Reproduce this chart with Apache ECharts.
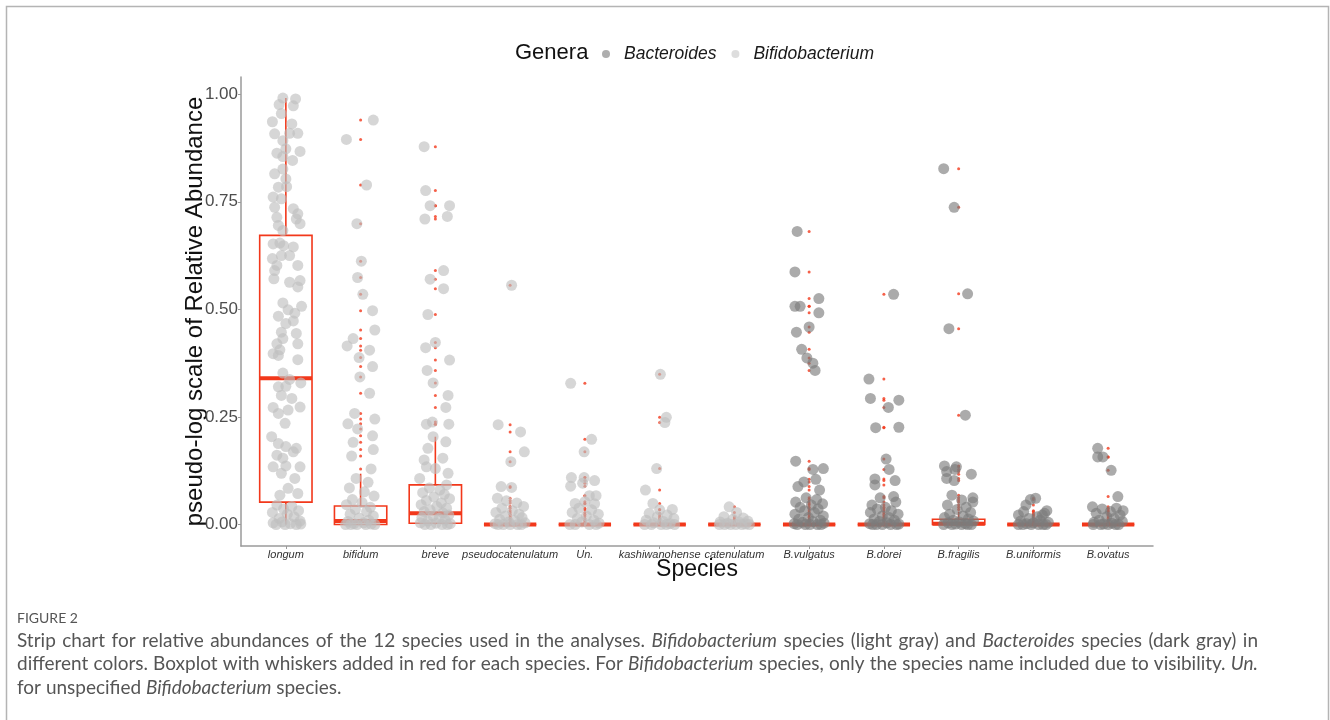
<!DOCTYPE html>
<html>
<head>
<meta charset="utf-8">
<script src="https://cdn.jsdelivr.net/npm/echarts@6/dist/echarts.min.js"></script>
<style>
html,body{margin:0;padding:0;background:#fff;}
#c{width:1330px;height:720px;}
</style>
</head>
<body>
<div id="c"></div>
<script>
// ---------- DATA ----------
const species = ['longum','bifidum','breve','pseudocatenulatum','Un.','kashiwanohense','catenulatum','B.vulgatus','B.dorei','B.fragilis','B.uniformis','B.ovatus'];
const genusOf = ['Bifidobacterium','Bifidobacterium','Bifidobacterium','Bifidobacterium','Bifidobacterium','Bifidobacterium','Bifidobacterium','Bacteroides','Bacteroides','Bacteroides','Bacteroides','Bacteroides'];
const yTicks = [0, 0.25, 0.5, 0.75, 1];

// box statistics per species: [lower whisker, Q1, median, Q3, upper whisker]
const boxLow    = [0,     0,     0,     0, 0, 0, 0, 0, 0, 0,     0, 0];
const boxQ1     = [0.052, 0,     0.003, 0, 0, 0, 0, 0, 0, 0,     0, 0];
const boxMedian = [0.340, 0.008, 0.026, 0, 0, 0, 0, 0, 0, 0.002, 0, 0];
const boxQ3     = [0.672, 0.043, 0.092, 0, 0, 0, 0, 0, 0, 0.012, 0, 0];
const boxHigh   = [0.991, 0.118, 0.204, 0, 0, 0, 0, 0, 0, 0.030, 0, 0];

// jittered observations per species: [horizontal jitter (category units), value]
const longum = [[-0.04,0.991],[0.13,0.989],[-0.09,0.976],[0.10,0.973],[-0.06,0.955],[-0.18,0.936],[0.08,0.931],[-0.15,0.908],[0.05,0.909],[0.16,0.909],[-0.04,0.892],[-0.12,0.863],[0,0.873],[0.19,0.867],[-0.04,0.855],[0.09,0.846],[-0.04,0.826],[-0.15,0.815],[0,0.803],[-0.10,0.784],[0.01,0.785],[-0.17,0.761],[-0.06,0.757],[-0.15,0.737],[0.10,0.734],[0.16,0.722],[0.14,0.710],[-0.12,0.714],[0.19,0.699],[-0.10,0.695],[-0.04,0.683],[-0.17,0.652],[-0.08,0.654],[-0.03,0.648],[0.10,0.645],[-0.18,0.618],[-0.06,0.625],[0.05,0.625],[-0.12,0.602],[0.16,0.602],[-0.15,0.590],[-0.16,0.571],[0.05,0.563],[0.19,0.567],[0.16,0.552],[-0.04,0.515],[0.21,0.507],[0.03,0.499],[-0.10,0.484],[0.12,0.491],[0.10,0.473],[0,0.467],[-0.06,0.447],[0.14,0.444],[-0.04,0.432],[-0.12,0.420],[0.16,0.420],[-0.17,0.397],[-0.08,0.406],[-0.10,0.393],[0.16,0.383],[-0.04,0.352],[0.05,0.337],[0.20,0.329],[-0.10,0.320],[0,0.321],[-0.06,0.300],[0.08,0.293],[-0.17,0.272],[0.19,0.273],[-0.10,0.258],[0.03,0.266],[-0.01,0.235],[-0.19,0.204],[-0.10,0.188],[0,0.181],[0.14,0.177],[0.10,0.169],[-0.12,0.161],[-0.04,0.154],[0.19,0.134],[-0.17,0.134],[0,0.136],[-0.06,0.119],[0.12,0.107],[0.03,0.084],[-0.08,0.068],[0.16,0.072],[-0.12,0.045],[0.08,0.042],[-0.03,0.036],[0.17,0.032],[-0.18,0.028],[0.02,0.024],[0.11,0.018],[-0.09,0.014],[0.19,0.008],[-0.17,0.004],[-0.05,0.006],[0.06,0.002],[0.14,0],[-0.13,0],[-0.01,0],[0.2,0.001]];
const bifidum = [[0.17,0.940],[-0.19,0.895],[0.08,0.789],[-0.05,0.699],[0.01,0.612],[-0.04,0.574],[0.03,0.535],[0.16,0.497],[0.19,0.452],[-0.10,0.432],[-0.18,0.415],[0.12,0.405],[-0.02,0.388],[0.16,0.367],[-0.01,0.343],[0.12,0.305],[-0.08,0.258],[0.19,0.245],[-0.17,0.234],[-0.04,0.222],[0.16,0.206],[-0.10,0.191],[0.17,0.174],[-0.12,0.159],[0.14,0.129],[-0.06,0.107],[0.10,0.098],[-0.15,0.085],[0.05,0.076],[0.18,0.066],[-0.11,0.058],[0.02,0.051],[-0.19,0.046],[0.13,0.040],[-0.07,0.035],[0.08,0.030],[-0.14,0.024],[0.17,0.020],[-0.02,0.015],[0.11,0.010],[-0.17,0.007],[0.04,0.004],[-0.09,0.002],[0.19,0],[-0.2,0],[-0.05,0],[0.07,0],[0.14,0.001],[-0.13,0]];
const breve = [[-0.15,0.878],[-0.13,0.776],[-0.07,0.741],[0.19,0.741],[-0.14,0.710],[0.16,0.716],[0.11,0.590],[-0.07,0.570],[0.11,0.548],[-0.10,0.488],[0,0.423],[-0.13,0.411],[0.19,0.382],[-0.11,0.358],[-0.03,0.329],[0.17,0.300],[0.14,0.272],[-0.12,0.233],[-0.04,0.238],[0.18,0.233],[-0.03,0.204],[0.14,0.192],[-0.10,0.177],[0.10,0.154],[-0.15,0.150],[-0.12,0.134],[0,0.130],[0.17,0.119],[-0.21,0.107],[0.15,0.092],[-0.08,0.085],[0.06,0.080],[-0.17,0.074],[0.12,0.070],[-0.02,0.064],[0.19,0.060],[-0.12,0.056],[0.08,0.050],[-0.19,0.046],[0.02,0.042],[0.15,0.038],[-0.07,0.034],[-0.15,0.030],[0.10,0.027],[0.18,0.022],[-0.03,0.020],[-0.18,0.016],[0.05,0.014],[0.13,0.010],[-0.10,0.008],[-0.2,0.004],[0.01,0.003],[0.2,0.002],[-0.06,0],[0.09,0],[-0.14,0],[0.16,0]];
const pseudocatenulatum = [[0.02,0.556],[-0.16,0.232],[0.14,0.215],[0.19,0.169],[0.01,0.146],[-0.12,0.088],[0.02,0.086],[-0.17,0.061],[-0.05,0.055],[0.09,0.050],[0.18,0.042],[-0.11,0.038],[0.03,0.032],[-0.19,0.028],[0.12,0.024],[-0.06,0.020],[0.16,0.016],[-0.14,0.012],[0.06,0.009],[-0.02,0.006],[0.2,0.004],[-0.2,0.002],[0.10,0],[-0.09,0],[0,0],[0.15,0],[-0.16,0]];
const unspecified = [[-0.19,0.328],[0.09,0.198],[-0.01,0.169],[-0.18,0.109],[-0.01,0.109],[0.13,0.102],[-0.19,0.089],[-0.03,0.096],[0.06,0.067],[0.15,0.067],[-0.13,0.049],[0.13,0.048],[0,0.053],[-0.08,0.038],[0.09,0.034],[-0.17,0.028],[0.18,0.024],[0.02,0.020],[-0.10,0.014],[0.12,0.010],[-0.04,0.006],[0.19,0.003],[-0.2,0],[0.06,0],[-0.13,0],[0.15,0]];
const kashiwanohense = [[0.01,0.349],[0.09,0.249],[0.07,0.237],[-0.04,0.130],[-0.19,0.080],[-0.09,0.049],[0.17,0.035],[0,0.034],[-0.14,0.026],[0.10,0.022],[-0.03,0.018],[0.19,0.014],[-0.18,0.010],[0.05,0.007],[-0.08,0.004],[0.14,0.002],[-0.2,0],[-0.11,0],[0.02,0],[0.2,0],[0.09,0]];
const catenulatum = [[-0.07,0.041],[0.03,0.028],[-0.14,0.018],[0.12,0.015],[-0.02,0.012],[0.18,0.008],[-0.19,0.006],[0.07,0.005],[-0.09,0.003],[0.15,0.001],[-0.2,0],[-0.05,0],[0.02,0],[0.10,0],[0.2,0],[-0.13,0]];
const vulgatus = [[-0.16,0.681],[-0.19,0.587],[0.13,0.525],[-0.19,0.507],[-0.12,0.507],[0.13,0.492],[0,0.459],[-0.17,0.447],[-0.10,0.407],[-0.03,0.387],[0.05,0.375],[0.08,0.358],[-0.18,0.147],[0.05,0.128],[0.19,0.130],[0.09,0.105],[-0.07,0.099],[-0.15,0.088],[0.14,0.080],[-0.04,0.062],[0.10,0.058],[-0.18,0.052],[0.18,0.048],[0.03,0.045],[-0.12,0.040],[0.12,0.036],[-0.06,0.032],[0.07,0.028],[-0.19,0.024],[0.19,0.020],[-0.01,0.016],[-0.14,0.012],[0.15,0.010],[0.05,0.007],[-0.09,0.005],[0.2,0.003],[-0.2,0.002],[0.11,0],[-0.05,0],[0.01,0],[-0.16,0],[0.16,0]];
const dorei = [[0.13,0.535],[-0.20,0.338],[-0.18,0.293],[0.20,0.289],[0.06,0.272],[-0.11,0.225],[0.20,0.226],[0.03,0.152],[0.07,0.128],[-0.12,0.106],[0.15,0.102],[-0.12,0.092],[-0.05,0.062],[0.13,0.065],[0.16,0.052],[-0.16,0.045],[0.02,0.040],[-0.09,0.036],[0.10,0.032],[-0.18,0.028],[0.19,0.024],[-0.02,0.020],[0.07,0.016],[-0.13,0.013],[0.14,0.010],[-0.06,0.007],[0.04,0.004],[-0.19,0.002],[0.2,0.001],[-0.10,0],[0.09,0],[-0.02,0],[0.17,0],[-0.15,0]];
const fragilis = [[-0.20,0.827],[-0.06,0.737],[0.12,0.536],[-0.13,0.455],[0.09,0.254],[-0.19,0.136],[-0.16,0.123],[-0.05,0.128],[-0.16,0.107],[-0.06,0.102],[0.17,0.117],[-0.03,0.134],[-0.09,0.068],[0.19,0.062],[0.19,0.052],[0.04,0.057],[-0.15,0.045],[0.10,0.040],[-0.02,0.035],[0.16,0.028],[-0.12,0.024],[0.06,0.020],[-0.19,0.016],[0.13,0.013],[-0.07,0.010],[0.2,0.008],[0.01,0.006],[-0.14,0.004],[0.09,0.002],[-0.04,0.001],[0.17,0],[-0.2,0],[-0.09,0],[0.04,0],[0.12,0]];
const uniformis = [[-0.04,0.058],[0.03,0.061],[-0.10,0.045],[-0.20,0.022],[0.18,0.032],[0.12,0.022],[0.05,0.018],[-0.13,0.030],[0.15,0.026],[-0.06,0.014],[0.09,0.010],[-0.17,0.008],[0.2,0.005],[0,0.004],[-0.09,0.002],[0.13,0],[-0.2,0],[-0.03,0],[0.07,0],[0.17,0],[-0.14,0]];
const ovatus = [[-0.14,0.177],[-0.14,0.157],[-0.07,0.157],[0.04,0.126],[0.13,0.065],[-0.21,0.041],[0.11,0.038],[0.20,0.032],[-0.08,0.036],[0.03,0.030],[-0.16,0.026],[0.16,0.022],[-0.02,0.018],[0.08,0.014],[-0.12,0.010],[0.19,0.007],[-0.19,0.005],[0.05,0.003],[-0.06,0.001],[0.14,0],[-0.2,0],[0,0],[-0.10,0],[0.10,0]];

const observations = [longum, bifidum, breve, pseudocatenulatum, unspecified, kashiwanohense, catenulatum, vulgatus, dorei, fragilis, uniformis, ovatus];

// caption text (words in *...* are italic)
const captionLabel = 'FIGURE 2';
const captionLines = [
  'Strip chart for relative abundances of the 12 species used in the analyses. *Bifidobacterium* species (light gray) and *Bacteroides* species (dark gray) in',
  'different colors. Boxplot with whiskers added in red for each species. For *Bifidobacterium* species, only the species name included due to visibility. *Un.*',
  'for unspecified *Bifidobacterium* species.'
];

// ---------- STYLE ----------
const RED = '#F2381B';
const AXIS = '#9a9a9a';
const FONT = '"Liberation Sans", Arial, sans-serif';
const CAP_FONT = 'Lato, "Open Sans", sans-serif';
const CAP_LEFT = 17, CAP_RIGHT = 1258;
const CAP_Y = [641, 664, 688];

// ---------- BUILD ----------
const bifPts = [], bacPts = [], outPts = [], boxData = [];
observations.forEach(function (arr, i) {
  arr.forEach(function (p) {
    const pt = [i + p[0], p[1]];
    if (genusOf[i] === 'Bacteroides') bacPts.push(pt); else bifPts.push(pt);
    if (p[1] > boxHigh[i] + 1e-9 || p[1] < boxLow[i] - 1e-9) outPts.push([i, p[1]]);
  });
  boxData.push([i, boxLow[i], boxQ1[i], boxMedian[i], boxQ3[i], boxHigh[i]]);
});

// caption: justified text lines (last line left aligned); size chosen so the longest line just fits
const mctx = document.createElement('canvas').getContext('2d');
function capFont(it, size) { return (it ? 'italic ' : '') + size + 'px ' + CAP_FONT; }
const parsed = captionLines.map(function (line) {
  return line.split(' ').map(function (w) { return {t: w.replace(/\*/g, ''), it: w.charAt(0) === '*'}; });
});
function lineWidth(words, size) {
  let tot = 0;
  words.forEach(function (w) { mctx.font = capFont(w.it, size); tot += mctx.measureText(w.t).width; });
  mctx.font = capFont(false, size);
  return tot + mctx.measureText(' ').width * (words.length - 1);
}
let maxW = 0;
parsed.forEach(function (ws) { maxW = Math.max(maxW, lineWidth(ws, 10)); });
const CAP_SIZE = Math.min(19, 10 * (CAP_RIGHT - CAP_LEFT - 6) / maxW);
const captionGraphics = [];
parsed.forEach(function (words, li) {
  let total = 0;
  words.forEach(function (w) { mctx.font = capFont(w.it, CAP_SIZE); w.w = mctx.measureText(w.t).width; total += w.w; });
  mctx.font = capFont(false, CAP_SIZE);
  const space = mctx.measureText(' ').width;
  const justify = li < parsed.length - 1;
  const gap = justify ? (CAP_RIGHT - CAP_LEFT - total) / (words.length - 1) : space;
  let x = CAP_LEFT;
  words.forEach(function (w) {
    captionGraphics.push({type: 'text', x: x, y: CAP_Y[li], silent: true,
      style: {text: w.t, font: capFont(w.it, CAP_SIZE), fill: '#555', verticalAlign: 'middle', align: 'left'}});
    x += w.w + gap;
  });
});

const chart = echarts.init(document.getElementById('c'), null, {renderer: 'canvas'});
const catIdx = species.map(function (s, i) { return i; });

const option = {
  backgroundColor: '#fff',
  animation: false,
  grid: {left: 241, top: 77, right: 177, bottom: 174, containLabel: false},
  legend: {
    data: [
      {name: 'Bacteroides', itemStyle: {color: '#9a9a9a'}},
      {name: 'Bifidobacterium', itemStyle: {color: '#d4d4d4'}}
    ],
    icon: 'circle',
    left: 597, top: 40,
    itemWidth: 26, itemHeight: 8, itemGap: 15,
    selectedMode: false,
    textStyle: {fontFamily: FONT, fontSize: 17.5, fontStyle: 'italic', color: '#1a1a1a'}
  },
  xAxis: {
    type: 'value', min: -0.6, max: 11.6,
    name: 'Species', nameLocation: 'middle', nameGap: 24, nameMoveOverlap: false,
    nameTextStyle: {fontFamily: FONT, fontSize: 23, color: '#111', verticalAlign: 'middle'},
    axisLine: {show: true, onZero: false, lineStyle: {color: AXIS, width: 1.5}},
    axisTick: {show: true, length: 3, customValues: catIdx, lineStyle: {color: AXIS, width: 1}},
    axisLabel: {
      customValues: catIdx, margin: 3,
      fontFamily: FONT, fontSize: 11, fontStyle: 'italic', color: '#333',
      formatter: function (v) { return species[Math.round(v)] || ''; }
    },
    splitLine: {show: false}
  },
  yAxis: {
    type: 'value', min: -0.05, max: 1.04,
    name: 'pseudo-log scale of Relative Abundance', nameLocation: 'middle', nameGap: 46, nameMoveOverlap: false,
    nameTextStyle: {fontFamily: FONT, fontSize: 24, color: '#111', verticalAlign: 'middle'},
    axisLine: {show: true, onZero: false, lineStyle: {color: AXIS, width: 1.5}},
    axisTick: {show: true, length: 3, customValues: yTicks, lineStyle: {color: AXIS, width: 1}},
    axisLabel: {
      customValues: yTicks, margin: 3,
      fontFamily: FONT, fontSize: 17, color: '#4d4d4d',
      formatter: function (v) { return v.toFixed(2); }
    },
    splitLine: {show: false}
  },
  series: [
    {
      type: 'custom', name: 'box', z: 2, silent: true,
      data: boxData,
      encode: {x: 0, y: [1, 2, 3, 4, 5]},
      renderItem: function (params, api) {
        const i = api.value(0);
        const wl = api.value(1), q1 = api.value(2), md = api.value(3), q3 = api.value(4), wh = api.value(5);
        const hw = 0.35;
        const tl = api.coord([i - hw, q3]);
        const br = api.coord([i + hw, q1]);
        const cx = api.coord([i, 0])[0];
        const yWh = api.coord([i, wh])[1];
        const yWl = api.coord([i, wl])[1];
        const yMd = api.coord([i, md])[1];
        const st = {stroke: RED, lineWidth: 1.6, fill: null};
        return {type: 'group', children: [
          {type: 'line', shape: {x1: cx, y1: tl[1], x2: cx, y2: yWh}, style: st},
          {type: 'line', shape: {x1: cx, y1: br[1], x2: cx, y2: yWl}, style: st},
          {type: 'rect', shape: {x: tl[0], y: tl[1], width: br[0] - tl[0], height: br[1] - tl[1]}, style: st},
          {type: 'line', shape: {x1: tl[0], y1: yMd, x2: br[0], y2: yMd}, style: {stroke: RED, lineWidth: 4}}
        ]};
      }
    },
    {
      type: 'scatter', name: 'outliers', z: 3, silent: true,
      symbol: 'circle', symbolSize: 3,
      itemStyle: {color: RED},
      data: outPts
    },
    {
      type: 'scatter', name: 'Bifidobacterium', z: 4, silent: true,
      symbol: 'circle', symbolSize: 11,
      itemStyle: {color: 'rgba(191,191,191,0.8)'},
      data: bifPts
    },
    {
      type: 'scatter', name: 'Bacteroides', z: 4, silent: true,
      symbol: 'circle', symbolSize: 11,
      itemStyle: {color: 'rgba(124,124,124,0.8)'},
      data: bacPts
    }
  ],
  graphic: [
    {type: 'rect', silent: true, z: 0, shape: {x: 6.5, y: 6.5, width: 1322, height: 740},
     style: {fill: null, stroke: '#b4b4b4', lineWidth: 1.5}},
    {type: 'text', x: 515, y: 53, silent: true,
     style: {text: 'Genera', fontFamily: FONT, fontSize: 22, fill: '#111', verticalAlign: 'middle'}},
    {type: 'text', x: 17, y: 618, silent: true,
     style: {text: captionLabel, fontFamily: CAP_FONT, fontSize: 14, fill: '#555', verticalAlign: 'middle'}}
  ].concat(captionGraphics)
};
chart.setOption(option);
</script>
</body>
</html>
